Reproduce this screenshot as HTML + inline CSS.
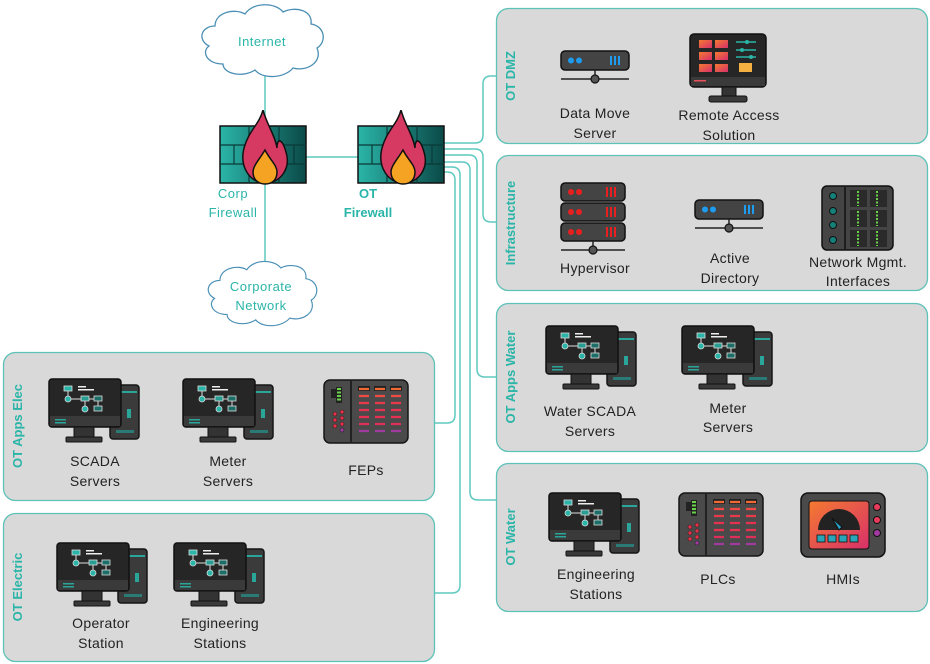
<!DOCTYPE html>
<html><head><meta charset="utf-8"><style>
html,body{margin:0;padding:0;background:#fff;}
svg{display:block;}
text{font-family:"Liberation Sans",sans-serif;}
</style></head><body>
<svg width="930" height="664" viewBox="0 0 930 664" xmlns="http://www.w3.org/2000/svg">
<defs>
<linearGradient id="wall" x1="0" x2="1"><stop offset="0" stop-color="#2bb5a8"/><stop offset="1" stop-color="#0b4a48"/></linearGradient>
<linearGradient id="scr" x1="0" x2="1" y1="0" y2="1"><stop offset="0" stop-color="#f47a30"/><stop offset="1" stop-color="#d8306a"/></linearGradient>
<symbol id="ws" viewBox="0 0 92 66">
<rect x="62" y="7" width="29" height="54" rx="3" fill="#3b3b3b" stroke="#151515" stroke-width="1.5"/>
<rect x="64" y="13" width="25" height="2" fill="#2aa59a"/>
<circle cx="67" cy="18" r="1.5" fill="#2aa59a"/>
<rect x="79" y="31" width="4" height="9" fill="#2aa59a"/>
<rect x="68" y="52" width="18" height="3" fill="#2a7a75"/>
<rect x="1" y="1" width="72" height="48" rx="3" fill="#262626" stroke="#111" stroke-width="1.5"/>
<rect x="2" y="38" width="70" height="10" fill="#3a3a3a"/>
<rect x="7" y="41" width="11" height="1.5" fill="#2aa59a"/><rect x="7" y="44" width="11" height="1.5" fill="#2aa59a"/>
<rect x="26" y="49" width="20" height="11" fill="#333" stroke="#111"/>
<rect x="18" y="59" width="36" height="5" rx="1" fill="#3a3a3a" stroke="#111"/>
<rect x="16" y="8" width="8" height="5" fill="#2ab5a8" stroke="#ddd" stroke-width=".8"/>
<rect x="30" y="8" width="8" height="1.5" fill="#eee"/><rect x="30" y="11" width="16" height="1.5" fill="#eee"/>
<line x1="20" y1="13" x2="20" y2="19" stroke="#ddd"/><line x1="20" y1="21" x2="50" y2="21" stroke="#ddd"/>
<line x1="37" y1="21" x2="37" y2="29" stroke="#ddd"/><line x1="50" y1="21" x2="50" y2="28" stroke="#ddd"/>
<circle cx="20" cy="21" r="3" fill="#2ab5a8" stroke="#ddd" stroke-width=".8"/>
<rect x="33" y="18" width="8" height="5" fill="#2a9d92" stroke="#ddd" stroke-width=".8"/>
<rect x="46" y="18" width="8" height="5" fill="#1d6e68" stroke="#ddd" stroke-width=".8"/>
<circle cx="37" cy="31" r="3" fill="#2ab5a8" stroke="#ddd" stroke-width=".8"/>
<rect x="46" y="28" width="8" height="5" fill="#1d6e68" stroke="#ddd" stroke-width=".8"/>
</symbol>
<symbol id="srv" viewBox="0 0 70 36">
<rect x="1" y="1" width="68" height="19" rx="4" fill="#444" stroke="#111" stroke-width="1.5"/>
<circle cx="11" cy="10.5" r="3" fill="#1e9cf0"/><circle cx="19" cy="10.5" r="3" fill="#1e9cf0"/>
<rect x="50" y="6" width="2" height="9" fill="#1e9cf0"/><rect x="54" y="6" width="2" height="9" fill="#1e9cf0"/><rect x="58" y="6" width="2" height="9" fill="#1e9cf0"/>
<line x1="35" y1="20" x2="35" y2="29" stroke="#222" stroke-width="1.5"/>
<line x1="1" y1="29" x2="69" y2="29" stroke="#222" stroke-width="1.5"/>
<circle cx="35" cy="29" r="4" fill="#555" stroke="#111" stroke-width="1.2"/>
</symbol>
<symbol id="plc" viewBox="0 0 86 65">
<rect x="1" y="1" width="84" height="63" rx="6" fill="#4a4a4a" stroke="#151515" stroke-width="1.5"/>
<line x1="28" y1="2" x2="28" y2="63" stroke="#151515" stroke-width="1.5"/>
<rect x="8" y="10" width="5" height="9" fill="#222"/><rect x="13" y="8" width="6" height="16" fill="#222"/>
<g fill="#6cd14a"><rect x="14" y="9" width="4" height="2"/><rect x="14" y="12.5" width="4" height="2"/><rect x="14" y="16" width="4" height="2"/><rect x="14" y="19.5" width="4" height="2"/></g>
<g fill="#e8304a" stroke="#222" stroke-width=".6"><circle cx="12" cy="35" r="2"/><circle cx="19" cy="33" r="2"/><circle cx="12" cy="41" r="2"/><circle cx="19" cy="39" r="2"/><circle cx="12" cy="47" r="2"/><circle cx="19" cy="45" r="2"/><circle cx="19" cy="51" r="2" fill="#a03aa0"/></g>
<g>
<rect x="35" y="7" width="12" height="5" fill="#222"/><rect x="51" y="7" width="12" height="5" fill="#222"/><rect x="67" y="7" width="12" height="5" fill="#222"/>
</g>
<g stroke-width="2.2">
<path d="M36 10h10M52 10h10M68 10h10" stroke="#f06a35"/>
<path d="M36 17h10M52 17h10M68 17h10" stroke="#f04a45"/>
<path d="M36 24h10M52 24h10M68 24h10" stroke="#e83a4a"/>
<path d="M36 31h10M52 31h10M68 31h10" stroke="#e83050"/>
<path d="M36 38h10M52 38h10M68 38h10" stroke="#e83050"/>
<path d="M36 45h10M52 45h10M68 45h10" stroke="#e0305a"/>
<path d="M36 52h10M52 52h10M68 52h10" stroke="#a03aa0"/>
</g>
</symbol>
<symbol id="fw" viewBox="0 0 88 80">
<rect x="1" y="16" width="86" height="57" fill="url(#wall)" stroke="#111" stroke-width="1.5"/>
<g stroke="#0a3a38" stroke-width="1.2" fill="none">
<path d="M1 35h86M1 54h86M30 16v19M60 16v19M15 35v19M45 35v19M75 35v19M30 54v19M60 54v19"/>
</g>
<path d="M44 0 C40 15 30 20 25 38 C20 58 32 73 46 73 C62 73 72 58 67 42 C63 28 58 28 58 38 C56 25 48 15 44 0Z" fill="#d63a62" stroke="#111" stroke-width="1.5"/>
<path d="M46 40 C40 50 34 56 34 62 C34 70 40 74 46 74 C53 74 58 70 58 62 C58 55 51 50 46 40Z" fill="#f4a422" stroke="#111" stroke-width="1.5"/>
</symbol>
<symbol id="cloud" viewBox="0 0 134 76">
<path d="M20 24 C20 10 40 6 50 12 C58 0 80 0 88 10 C100 4 118 8 116 22 C130 24 132 40 122 46 C128 60 112 70 98 66 C90 76 68 78 60 68 C48 76 28 72 28 62 C12 62 6 50 14 44 C2 38 6 24 20 24Z" fill="#fff" stroke="#4a8fb5" stroke-width="1.3"/>
</symbol>
</defs>

<g stroke="#5ec9c0" stroke-width="1.5" fill="none">
<line x1="265" y1="62" x2="265" y2="130"/>
<line x1="265" y1="183" x2="265" y2="265"/>
<line x1="305" y1="157" x2="360" y2="157"/>
<path d="M444 143 H475 Q483 143 483 135 V84 Q483 76 491 76 H497"/>
<path d="M444 149 H475 Q483 149 483 157 V214 Q483 222 491 222 H497"/>
<path d="M444 155 H469 Q477 155 477 163 V369 Q477 377 485 377 H497"/>
<path d="M444 162 H462 Q470 162 470 170 V492 Q470 500 478 500 H497"/>
<path d="M444 167 H452 Q460 167 460 175 V585 Q460 593 452 593 H434"/>
<path d="M444 172 H447 Q455 172 455 180 V415 Q455 423 447 423 H434"/>
</g>

<g fill="#d9d9d9" stroke="#5ec2b8" stroke-width="1.3">
<rect x="496.5" y="8.5" width="431" height="135" rx="12"/>
<rect x="496.5" y="155.5" width="431" height="135" rx="12"/>
<rect x="496.5" y="303.5" width="431" height="148" rx="12"/>
<rect x="496.5" y="463.5" width="431" height="148" rx="12"/>
<rect x="3.5" y="352.5" width="431" height="148" rx="12"/>
<rect x="3.5" y="513.5" width="431" height="148" rx="12"/>
</g>
<g fill="#2ab5a8" font-weight="bold" font-size="13" text-anchor="middle">
<text transform="translate(515,76) rotate(-90)">OT DMZ</text>
<text transform="translate(515,223) rotate(-90)">Infrastructure</text>
<text transform="translate(515,377) rotate(-90)">OT Apps Water</text>
<text transform="translate(515,537) rotate(-90)">OT Water</text>
<text transform="translate(22,426) rotate(-90)">OT Apps Elec</text>
<text transform="translate(22,587) rotate(-90)">OT Electric</text>
</g>

<use href="#cloud" x="195" y="2" width="134" height="76"/>
<use href="#cloud" x="195" y="259" width="134" height="68"/>
<g fill="#2ab5a8" font-size="13" text-anchor="middle" letter-spacing=".5">
<text x="262" y="46">Internet</text>
<text x="261" y="291">Corporate</text>
<text x="261" y="310">Network</text>
<text x="233" y="198">Corp</text>
<text x="233" y="217">Firewall</text>
</g>
<g fill="#2ab5a8" font-size="13" font-weight="bold" text-anchor="middle">
<text x="368" y="198">OT</text>
<text x="368" y="217">Firewall</text>
</g>
<use href="#fw" x="219" y="110" width="88" height="80"/>
<use href="#fw" x="357" y="110" width="88" height="80"/>

<use href="#srv" x="560" y="50" width="70" height="36"/>
<use href="#srv" x="694" y="199" width="70" height="36"/>
<g>
<rect x="690" y="34" width="76" height="53" rx="4" fill="#262626" stroke="#111" stroke-width="1.5"/>
<rect x="691" y="77" width="74" height="9" fill="#3a3a3a"/>
<rect x="694" y="80" width="12" height="1.5" fill="#e8505a"/>
<g fill="url(#scr)"><rect x="699" y="40" width="13" height="8"/><rect x="715" y="40" width="13" height="8"/><rect x="699" y="52" width="13" height="8"/><rect x="715" y="52" width="13" height="8"/><rect x="699" y="64" width="13" height="8"/><rect x="715" y="64" width="13" height="8"/></g>
<path d="M736 42h20M736 50h20M736 57h20" stroke="#2ab5a8" stroke-width="1.5"/>
<circle cx="747" cy="42" r="2" fill="#2ab5a8"/><circle cx="742" cy="50" r="2" fill="#2ab5a8"/><circle cx="751" cy="57" r="2" fill="#2ab5a8"/>
<rect x="739" y="63" width="13" height="9" fill="#f4b040"/>
<rect x="722" y="87" width="14" height="9" fill="#333" stroke="#111"/>
<rect x="709" y="96" width="38" height="6" rx="2" fill="#3a3a3a" stroke="#111"/>
</g>
<g>
<g fill="#444" stroke="#111" stroke-width="1.5">
<rect x="561" y="183" width="64" height="18" rx="4"/><rect x="561" y="203" width="64" height="18" rx="4"/><rect x="561" y="223" width="64" height="18" rx="4"/>
</g>
<g fill="#e82020"><circle cx="571" cy="192" r="3"/><circle cx="579" cy="192" r="3"/><circle cx="571" cy="212" r="3"/><circle cx="579" cy="212" r="3"/><circle cx="571" cy="232" r="3"/><circle cx="579" cy="232" r="3"/></g>
<path d="M607 187v10M611 187v10M615 187v10M607 207v10M611 207v10M615 207v10M607 227v10M611 227v10M615 227v10" stroke="#e82020" stroke-width="2"/>
<path d="M593 241v9M561 250h64" stroke="#222" stroke-width="1.5"/>
<circle cx="593" cy="250" r="4" fill="#555" stroke="#111" stroke-width="1.2"/>
</g>
<g>
<rect x="822" y="186" width="71" height="64" rx="5" fill="#444" stroke="#111" stroke-width="1.5"/>
<line x1="845" y1="187" x2="845" y2="249" stroke="#111" stroke-width="1.5"/>
<g fill="#14807a" stroke="#111"><circle cx="833" cy="196" r="3.5"/><circle cx="833" cy="211" r="3.5"/><circle cx="833" cy="225" r="3.5"/><circle cx="833" cy="240" r="3.5"/></g>
<g fill="#2a2a2a"><rect x="850" y="190" width="17" height="17"/><rect x="870" y="190" width="17" height="17"/><rect x="850" y="210" width="17" height="17"/><rect x="870" y="210" width="17" height="17"/><rect x="850" y="230" width="17" height="17"/><rect x="870" y="230" width="17" height="17"/></g>
<g stroke="#6cd14a" stroke-width="2" stroke-dasharray="2 1.5"><path d="M858 191v15M877 191v15M858 211v15M877 211v15M858 231v15M877 231v15"/></g>
</g>
<use href="#plc" x="323" y="379" width="86" height="65"/>
<use href="#plc" x="678" y="492" width="86" height="65"/>
<g>
<rect x="801" y="493" width="84" height="64" rx="7" fill="#4a4a4a" stroke="#111" stroke-width="1.5"/>
<rect x="809" y="501" width="60" height="48" rx="3" fill="url(#scr)" stroke="#111"/>
<path d="M818 530 A21 21 0 0 1 860 530 Z" fill="#222"/>
<path d="M839 530 L832 518 L842 527Z" fill="#2aa5c8" stroke="#111"/>
<g fill="#2aa5b8" stroke="#111" stroke-width=".8"><rect x="817" y="535" width="8" height="7"/><rect x="828" y="535" width="8" height="7"/><rect x="839" y="535" width="8" height="7"/><rect x="850" y="535" width="8" height="7"/></g>
<g stroke="#111"><circle cx="877" cy="507" r="3.5" fill="#e83a5a"/><circle cx="877" cy="520" r="3.5" fill="#e83a5a"/><circle cx="877" cy="533" r="3.5" fill="#a03aa0"/></g>
</g>
<use href="#ws" x="48" y="378" width="92" height="66"/>
<use href="#ws" x="182" y="378" width="92" height="66"/>
<use href="#ws" x="545" y="325" width="92" height="66"/>
<use href="#ws" x="681" y="325" width="92" height="66"/>
<use href="#ws" x="548" y="492" width="92" height="66"/>
<use href="#ws" x="56" y="542" width="92" height="66"/>
<use href="#ws" x="173" y="542" width="92" height="66"/>

<g fill="#222" font-size="14" text-anchor="middle" letter-spacing=".3">
<text x="595" y="118">Data Move</text><text x="595" y="138">Server</text>
<text x="729" y="120">Remote Access</text><text x="729" y="140">Solution</text>
<text x="595" y="273">Hypervisor</text>
<text x="730" y="263">Active</text><text x="730" y="283">Directory</text>
<text x="858" y="267">Network Mgmt.</text><text x="858" y="286">Interfaces</text>
<text x="590" y="416">Water SCADA</text><text x="590" y="436">Servers</text>
<text x="728" y="413">Meter</text><text x="728" y="432">Servers</text>
<text x="596" y="579">Engineering</text><text x="596" y="599">Stations</text>
<text x="718" y="584">PLCs</text>
<text x="843" y="584">HMIs</text>
<text x="95" y="466">SCADA</text><text x="95" y="486">Servers</text>
<text x="228" y="466">Meter</text><text x="228" y="486">Servers</text>
<text x="366" y="475">FEPs</text>
<text x="101" y="628">Operator</text><text x="101" y="648">Station</text>
<text x="220" y="628">Engineering</text><text x="220" y="648">Stations</text>
</g>
</svg>
</body></html>
